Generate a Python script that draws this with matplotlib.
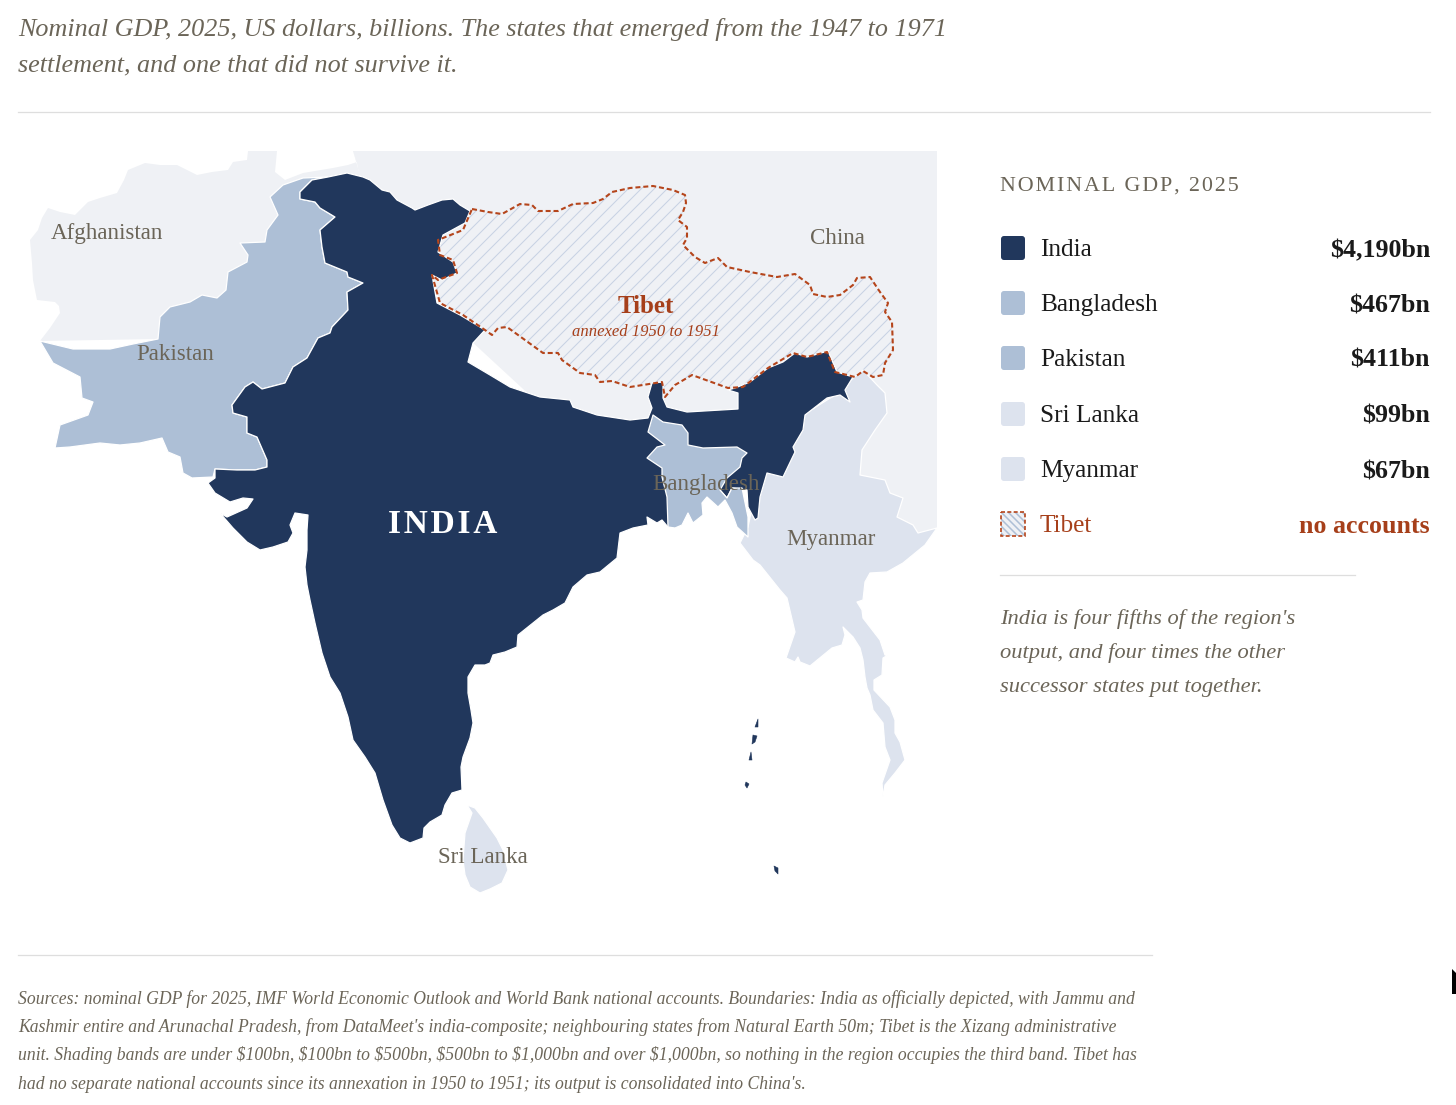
# South Asia GDP map, layout in screen pixels of the 1456x1105 page
import numpy as np
import matplotlib
matplotlib.use('Agg')
import matplotlib.pyplot as plt
from matplotlib.patches import Polygon, FancyBboxPatch, Rectangle

plt.rcParams['font.family'] = ['Liberation Serif', 'DejaVu Serif']
plt.rcParams['text.parse_math'] = False

# ── Colours ───────────────────────────────────────────────────
NAVY = '#21375c'
MID = '#adbfd6'
LIGHT = '#dde3ee'
PALE = '#eff1f5'
RUST = '#a63f1a'
DASH = '#b5451b'
GREY = '#6b6558'
INK = '#1a1a1a'
RULE = '#dedede'

# ── Legend data ───────────────────────────────────────────────
countries = ['India', 'Bangladesh', 'Pakistan', 'Sri Lanka', 'Myanmar', 'Tibet']
gdp_labels = ['$4,190bn', '$467bn', '$411bn', '$99bn', '$67bn', 'no accounts']
swatches = [NAVY, MID, MID, LIGHT, LIGHT, None]

title_lines = [
    'Nominal GDP, 2025, US dollars, billions. The states that emerged from the 1947 to 1971',
    'settlement, and one that did not survive it.',
]
note_lines = [
    "India is four fifths of the region's",
    'output, and four times the other',
    'successor states put together.',
]
source_lines = [
    'Sources: nominal GDP for 2025, IMF World Economic Outlook and World Bank national accounts. Boundaries: India as officially depicted, with Jammu and',
    "Kashmir entire and Arunachal Pradesh, from DataMeet's india-composite; neighbouring states from Natural Earth 50m; Tibet is the Xizang administrative",
    'unit. Shading bands are under $100bn, $100bn to $500bn, $500bn to $1,000bn and over $1,000bn, so nothing in the region occupies the third band. Tibet has',
    "had no separate national accounts since its annexation in 1950 to 1951; its output is consolidated into China's.",
]

china = [(353, 151), (937, 151), (937, 528), (900, 545), (800, 500), (600, 460),
         (470, 340), (420, 240), (360, 178), (357, 163)]

afghanistan = [(40, 341), (50, 328), (60, 313), (59, 306), (55, 302), (37, 300), (33, 280),
               (32, 263), (30, 240), (38, 230), (42, 218), (48, 208), (60, 212), (75, 215),
               (88, 202), (100, 198), (117, 193), (124, 180), (128, 170), (145, 163),
               (160, 165), (177, 165), (187, 170), (197, 175), (212, 172), (228, 170),
               (233, 162), (247, 160), (248, 151), (277, 151), (275, 172), (285, 180),
               (303, 173), (333, 168), (348, 165), (357, 162), (353, 151), (360, 175),
               (300, 200), (200, 330), (158, 339)]

pakistan_outer = [(40, 341), (73, 349), (110, 349), (133, 344), (158, 339), (160, 317),
                  (170, 307), (190, 302), (202, 295), (217, 298), (226, 290), (228, 272),
                  (247, 262), (248, 255), (240, 243), (265, 242), (267, 230), (278, 215),
                  (270, 197), (283, 185), (303, 178)]

# shared border, Kashmir down to the Rann of Kutch
india_pak_border = [(328, 177), (312, 180), (300, 192), (300, 199), (315, 202), (320, 208),
                    (335, 217), (320, 230), (322, 247), (325, 263), (347, 272), (348, 277),
                    (363, 283), (347, 292), (348, 310), (332, 327), (330, 333), (318, 338),
                    (307, 358), (293, 367), (285, 383), (262, 389), (253, 382), (245, 387),
                    (232, 405), (233, 413), (247, 417), (247, 433), (257, 437), (267, 460),
                    (267, 467), (255, 470), (237, 470), (215, 469)]

pakistan_coast = [(213, 477), (192, 478), (183, 473), (180, 457), (168, 452), (162, 438),
                  (140, 443), (120, 445), (100, 443), (70, 447), (55, 448), (60, 425),
                  (88, 415), (93, 402), (82, 398), (80, 377), (53, 363)]

india_main = [(347, 173), (363, 177), (370, 180), (382, 190), (390, 192), (397, 200), (412, 208),
              (415, 210), (428, 205), (442, 200), (453, 199), (460, 205), (470, 211), (465, 223),
              (443, 235), (438, 252), (453, 262), (457, 273), (442, 280), (432, 275), (437, 303),
              (460, 315), (485, 330), (473, 343), (468, 362), (490, 375), (510, 387), (540, 397),
              (570, 400), (573, 407), (597, 415), (630, 420), (648, 418), (652, 408), (648, 397),
              (652, 383), (663, 382), (663, 398), (667, 407), (687, 412), (738, 409),
              (738, 393), (728, 390), (735, 388), (750, 382), (768, 368), (783, 362),
              (795, 353), (807, 357), (828, 351), (837, 372), (853, 377), (845, 390),
              (850, 402), (840, 395), (827, 398), (805, 415), (803, 430), (793, 447),
              (795, 452), (783, 477), (767, 473), (760, 497), (758, 518), (755, 520),
              (748, 507), (747, 490), (732, 488), (727, 498), (720, 490), (700, 480),
              (668, 527), (662, 520), (657, 523), (647, 517), (648, 525), (633, 528),
              (620, 533), (617, 558), (600, 572), (587, 575), (573, 587), (568, 597),
              (565, 603), (553, 610), (543, 615), (533, 623), (518, 635), (517, 647),
              (505, 652), (493, 655), (490, 663), (485, 665), (475, 665), (468, 677),
              (468, 693), (471, 710), (473, 723), (470, 738), (463, 757), (461, 767),
              (462, 790), (452, 793), (445, 805), (442, 815), (430, 822), (424, 828),
              (423, 838), (410, 843), (400, 838), (392, 825), (383, 800), (375, 773),
              (365, 757), (353, 740), (348, 717), (340, 693), (330, 677), (322, 653),
              (315, 623), (310, 600), (307, 585), (305, 567), (307, 550), (307, 530),
              (308, 515), (295, 513), (290, 525), (293, 533), (288, 542), (273, 547),
              (260, 550), (247, 542), (233, 528), (220, 513), (227, 517), (247, 508),
              (253, 499), (243, 498), (230, 502), (215, 493), (208, 483), (215, 478)]

bangladesh = [(653, 415), (663, 422), (682, 425), (688, 433), (688, 445), (703, 448),
              (737, 447), (747, 453), (742, 458), (740, 467), (727, 478), (720, 490),
              (727, 498), (732, 488), (742, 488), (748, 517), (748, 537), (737, 527),
              (732, 513), (725, 500), (718, 507), (707, 497), (702, 503), (703, 515),
              (693, 523), (688, 513), (682, 525), (675, 528), (668, 527), (667, 497),
              (662, 477), (662, 468), (647, 458), (657, 447), (665, 445), (648, 432)]

myanmar = [(863, 370), (877, 385), (885, 393), (887, 413), (875, 430), (862, 450),
           (860, 475), (885, 480), (890, 493), (903, 498), (897, 517), (913, 525),
           (918, 533), (937, 528), (925, 545), (903, 563), (887, 572), (870, 573),
           (865, 582), (863, 600), (857, 602), (862, 610), (863, 618), (880, 640),
           (885, 655), (888, 655), (883, 658), (882, 675), (874, 680), (874, 690),
           (890, 707), (895, 720), (895, 733), (900, 742), (905, 760), (895, 773),
           (885, 785), (883, 797), (882, 783), (890, 760), (885, 747), (883, 723),
           (873, 710), (870, 695), (867, 688), (865, 677), (863, 660), (860, 648), (853, 637),
           (843, 627), (845, 635), (842, 645), (832, 648), (810, 666), (800, 662),
           (798, 657), (795, 662), (786, 658), (795, 632), (787, 598), (780, 590),
           (760, 565), (753, 560), (740, 543), (748, 527), (760, 470), (790, 440),
           (803, 415), (835, 395), (853, 378)]

sri_lanka = [(467, 805), (475, 808), (483, 818), (490, 828), (497, 838), (503, 850), (508, 870),
             (502, 883), (490, 889), (480, 893), (470, 887), (465, 875), (463, 860),
             (465, 833), (472, 813)]

andaman_nicobar = [
    [(758, 719), (755, 727), (758, 727)],
    [(753, 735), (757, 736), (755, 742), (752, 744)],
    [(751, 752), (752, 760), (749, 760)],
    [(746, 782), (749, 784), (747, 788), (745, 785)],
    [(774, 866), (778, 868), (778, 874), (775, 871)],
]

tibet = [(472, 209), (488, 212), (502, 214), (520, 204), (532, 205), (538, 211), (558, 211),
         (573, 204), (593, 203), (603, 199), (612, 192), (630, 188), (653, 186), (673, 190),
         (685, 195), (686, 203), (683, 212), (678, 220), (687, 227), (687, 238), (683, 245),
         (695, 257), (705, 263), (718, 258), (727, 267), (750, 272), (777, 277), (795, 274),
         (810, 285), (813, 294), (827, 297), (840, 295), (853, 285), (857, 278), (870, 277),
         (880, 292), (888, 303), (885, 312), (892, 322), (893, 350), (885, 363), (883, 375),
         (873, 377), (863, 371), (855, 377), (835, 372), (827, 352), (807, 357), (793, 353),
         (768, 368), (743, 387), (728, 388), (692, 375), (675, 385), (665, 397), (662, 382),
         (630, 387), (612, 381), (600, 382), (595, 375), (580, 373), (562, 360), (558, 353),
         (543, 353), (525, 340), (507, 327), (498, 328), (492, 335), (485, 330), (463, 315),
         (440, 303), (432, 275), (438, 280), (457, 273), (453, 260), (440, 255), (438, 240),
         (463, 230)]

# the stray cursor sliver at the right edge of the screenshot
cursor_mark = [(1452, 969), (1456, 973), (1456, 994), (1452, 994)]

map_labels = ['Afghanistan', 'Pakistan', 'China', 'Bangladesh', 'Myanmar', 'Sri Lanka']
map_label_x = [107, 175, 837, 706, 831, 483]
map_label_y = [231, 352, 236, 482, 537, 855]

row_y = [248, 303, 358, 414, 469, 524]
note_y = [617, 651, 685]
source_y = [997, 1025, 1053, 1082]

TEXT_DY = 2.5  # va='center' sits a bit high with this font


def spaced(s):
    # no letter spacing in matplotlib, hair spaces get close
    return '\u200a'.join(s)


fig = plt.figure(figsize=(14.56, 11.05), dpi=100, facecolor='white')
ax = fig.add_axes([0, 0, 1, 1])
ax.set_xlim(0, 1456)
ax.set_ylim(1105, 0)
ax.axis('off')


def land(points, color, z, edge='white', lw=0.9):
    p = Polygon(points, closed=True, facecolor=color, edgecolor=edge, linewidth=lw, zorder=z, joinstyle='round')
    ax.add_patch(p)
    return p


# ── Map layers ────────────────────────────────────────────────
land(china, PALE, 1, edge='none', lw=0)
land(afghanistan, PALE, 1, edge='none', lw=0)
tibet_patch = land(tibet, PALE, 2, edge='none', lw=0)
for c in np.arange(440, 1300, 13):
    ln, = ax.plot([c, c - 400], [0, 400], color='#c8d3e3', lw=0.75, zorder=2.5)
    ln.set_clip_path(tibet_patch)

land(myanmar, LIGHT, 3)
land(sri_lanka, LIGHT, 3)
land(pakistan_outer + india_pak_border + pakistan_coast, MID, 3)
land(india_main + india_pak_border[::-1], NAVY, 4)
land(bangladesh, MID, 5)
for isl in andaman_nicobar:
    land(isl, NAVY, 4, edge=NAVY, lw=0.4)

tx, ty = zip(*(tibet + tibet[:1]))
ax.plot(tx, ty, color=DASH, lw=1.5, ls=(0, (2.4, 1.4)), zorder=6)

# ── Map labels ────────────────────────────────────────────────
for name, x, y in zip(map_labels, map_label_x, map_label_y):
    ax.text(x, y + TEXT_DY, name, fontsize=16.6, color=GREY, ha='center', va='center', zorder=7)
ax.text(443, 522 + TEXT_DY, spaced('INDIA'), fontsize=24, color='white', fontweight='semibold', ha='center', va='center', zorder=7)
ax.text(646, 304 + TEXT_DY, 'Tibet', fontsize=18, color=RUST, fontweight='bold', ha='center', va='center', zorder=7)
ax.text(646, 330 + TEXT_DY, 'annexed 1950 to 1951', fontsize=12, color=RUST, style='italic', ha='center', va='center', zorder=7)

# ── Title and rules ───────────────────────────────────────────
ax.text(18, 27 + TEXT_DY, title_lines[0], fontsize=18.85, color=GREY, style='italic', va='center')
ax.text(18, 63 + TEXT_DY, title_lines[1], fontsize=18.85, color=GREY, style='italic', va='center')
ax.plot([18, 1430], [111.5, 111.5], color=RULE, lw=0.9)
ax.plot([1000, 1355], [575, 575], color=RULE, lw=0.9)
ax.plot([18, 1152], [955, 955], color=RULE, lw=0.9)

# ── Legend ────────────────────────────────────────────────────
ax.text(1000, 184 + TEXT_DY, spaced('NOMINAL GDP, 2025'), fontsize=15.8, color=GREY, va='center')
for name, val, sw, y in zip(countries, gdp_labels, swatches, row_y):
    rust = sw is None
    if rust:
        box = Rectangle((1001, y - 12), 24, 24, facecolor=PALE, edgecolor='none', zorder=2)
        ax.add_patch(box)
        for c in np.arange(-21, 26, 7):
            ln, = ax.plot([1001 + c, 1025 + c], [y - 12, y + 12], color=MID, lw=1.1, zorder=3)
            ln.set_clip_path(box)
        ax.add_patch(Rectangle((1001, y - 12), 24, 24, facecolor='none', edgecolor=DASH,
                               lw=1.2, ls=(0, (2.4, 1.4)), zorder=4))
    else:
        ax.add_patch(FancyBboxPatch((1004, y - 9), 18, 18, boxstyle='round,pad=3,rounding_size=3',
                                    facecolor=sw, edgecolor='none', zorder=2))
    ax.text(1040, y + TEXT_DY, name, fontsize=18.2, color=RUST if rust else INK, va='center')
    ax.text(1430, y + TEXT_DY, val, fontsize=18.6, color=RUST if rust else INK, fontweight='bold', ha='right', va='center')

for line, y in zip(note_lines, note_y):
    ax.text(1000, y + TEXT_DY, line, fontsize=16.2, color=GREY, style='italic', va='center')
for line, y in zip(source_lines, source_y):
    ax.text(18, y + TEXT_DY, line, fontsize=12.7, color=GREY, style='italic', va='center')

ax.add_patch(Polygon(cursor_mark, closed=True, facecolor='black', edgecolor='none', zorder=8, clip_on=True))

fig.savefig('out.png', dpi=100, facecolor='white')
